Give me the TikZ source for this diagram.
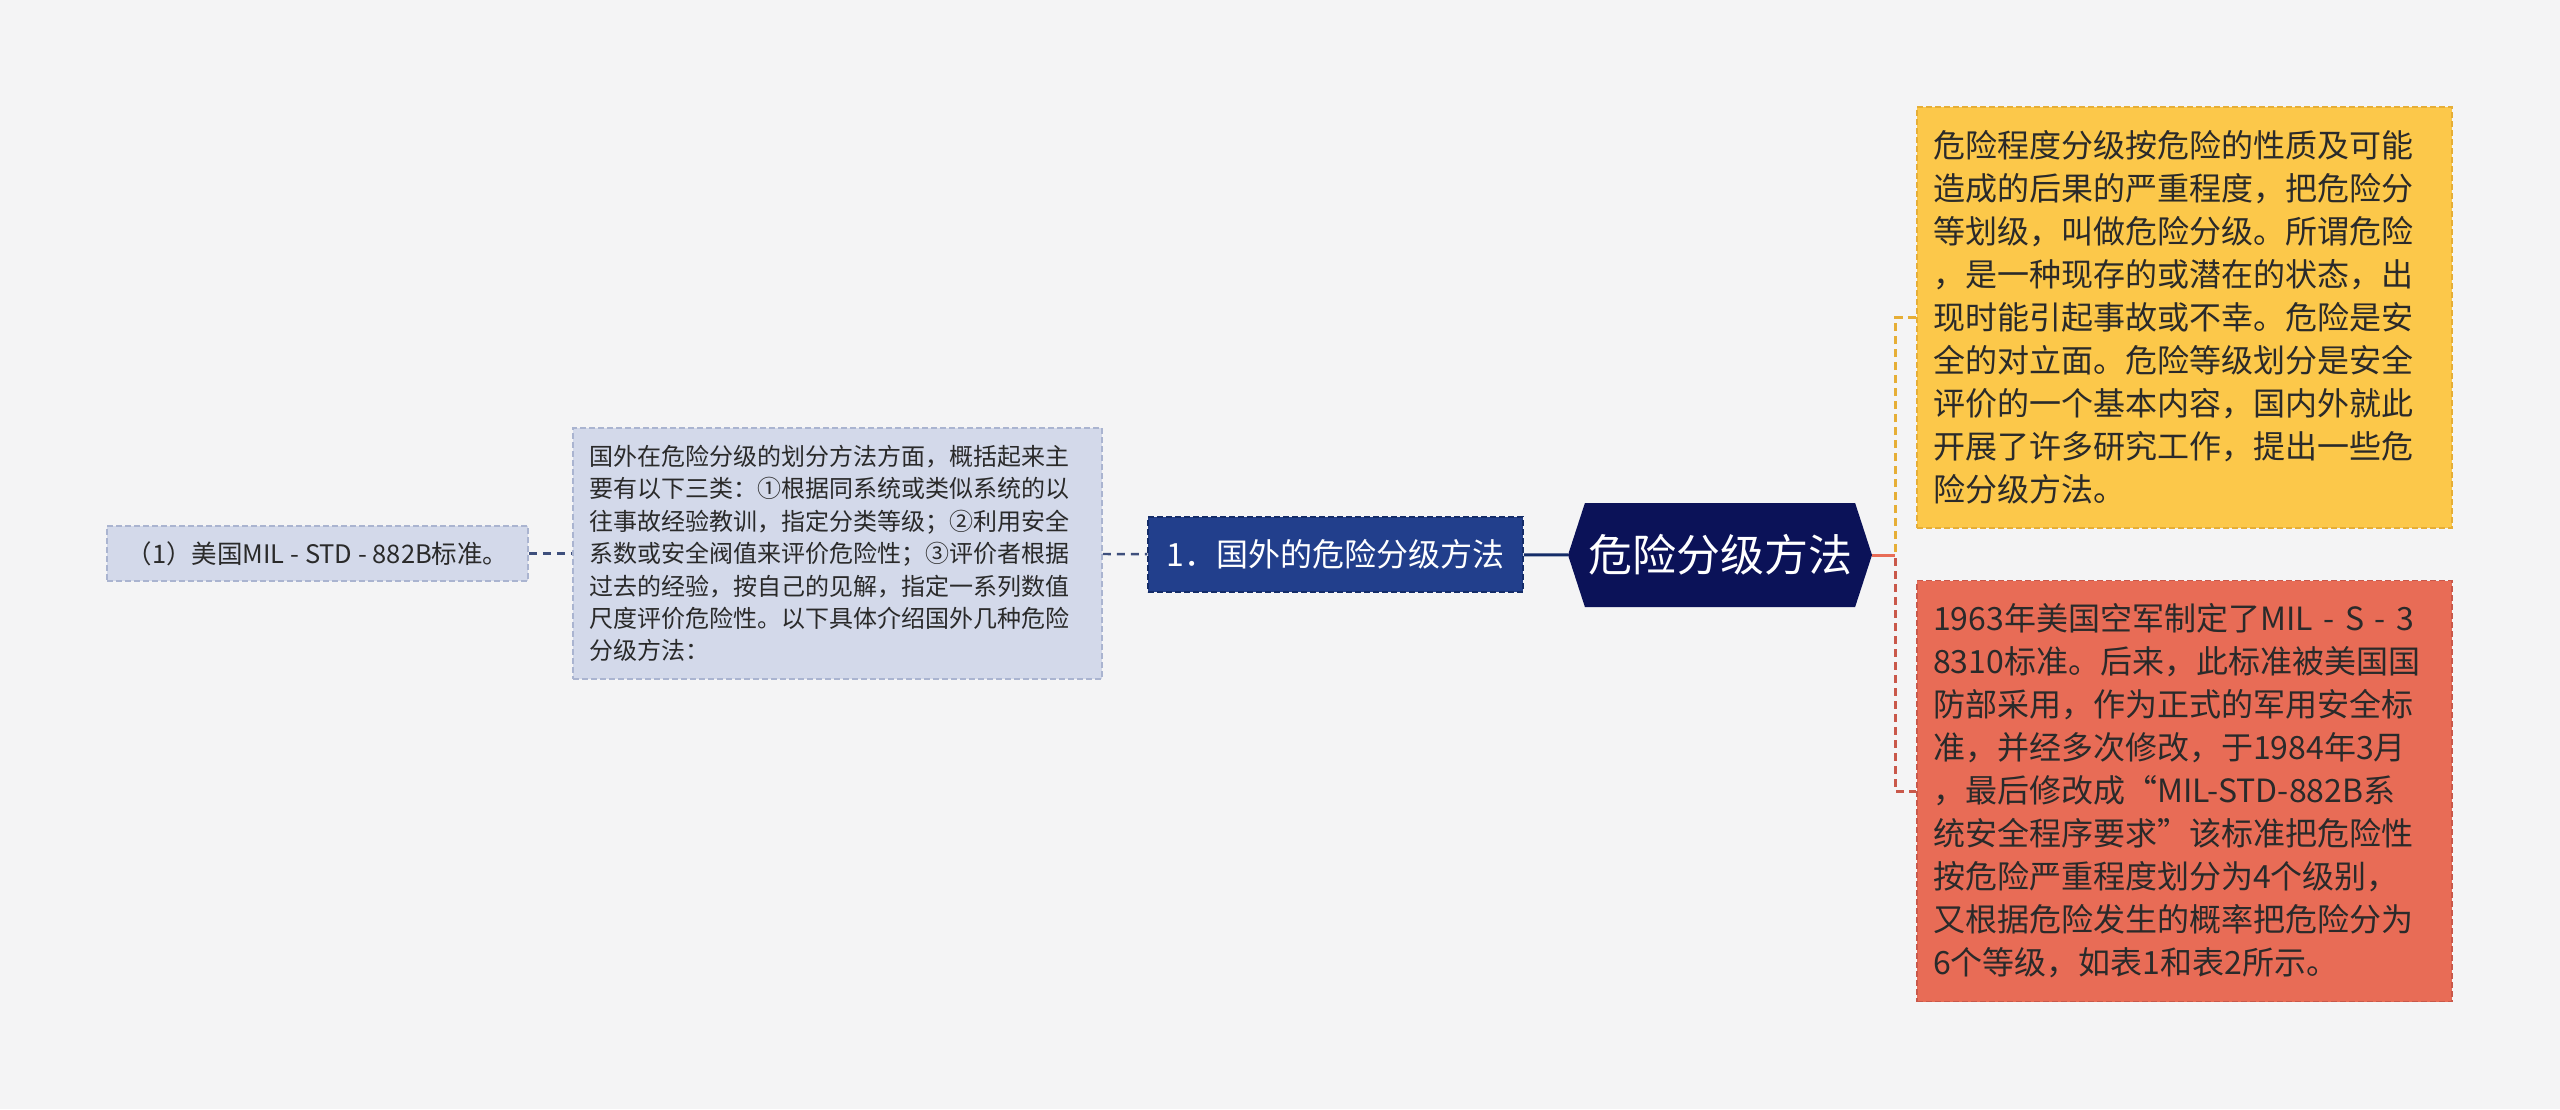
\documentclass[tikz,border=0pt]{standalone}
\usepackage{fontspec}
\setmainfont{Noto Sans CJK SC}
\usetikzlibrary{shapes.symbols}

\definecolor{pagebg}{HTML}{F4F4F5}
\definecolor{leaffill}{HTML}{D3D9EA}
\definecolor{leafline}{HTML}{AAB4D0}
\definecolor{leaflink}{HTML}{3E4F7C}
\definecolor{bluefill}{HTML}{223F8C}
\definecolor{blueline}{HTML}{142C68}
\definecolor{rootfill}{HTML}{0B1258}
\definecolor{yellowfill}{HTML}{FCC84A}
\definecolor{yellowline}{HTML}{E6AE36}
\definecolor{redfill}{HTML}{E86C56}
\definecolor{redline}{HTML}{C9584A}
\definecolor{darktext}{HTML}{2A2A2A}

\begin{document}
\begin{tikzpicture}[x=1pt,y=-1pt,
    leafbox/.style={fill=leaffill, draw=leafline, dash pattern=on 6pt off 3pt,
        line width=1.5pt, text=darktext, inner sep=0pt,
        font=\fontsize{24}{32.4}\selectfont},
    notebox/.style={dash pattern=on 6pt off 3pt, line width=1.5pt, text=darktext,
        inner xsep=16pt, inner ysep=0pt, text width=503pt, align=left,
        minimum height=421pt, font=\fontsize{32}{43}\selectfont},
    leaflink/.style={draw=leaflink, line width=2.4pt, dash pattern=on 8pt off 6pt}]

    % page
    \fill[pagebg] (0,0) rectangle (2560,1109);

    % left side
    \node[leafbox, minimum width=421, minimum height=55,
          font=\fontsize{25.5}{30}\selectfont] (mil) at (317.5,553.5)
        {（1）美国MIL - STD - 882B标准。};
    \node[leafbox, minimum width=529, minimum height=251, inner xsep=16pt,
          text width=497pt, align=left] (abroad) at (837.5,553.5)
        {国外在危险分级的划分方法方面，概括起来主\\
         要有以下三类：①根据同系统或类似系统的以\\
         往事故经验教训，指定分类等级；②利用安全\\
         系数或安全阀值来评价危险性；③评价者根据\\
         过去的经验，按自己的见解，指定一系列数值\\
         尺度评价危险性。以下具体介绍国外几种危险\\
         分级方法：};
    \node[fill=bluefill, draw=blueline, dash pattern=on 6pt off 3pt, line width=1.5pt,
          text=white, minimum width=375, minimum height=75, inner sep=0pt,
          font=\fontsize{32}{36}\selectfont] (method) at (1335.5,554.5)
        {1．国外的危险分级方法};

    % centre
    \node[signal, signal to=west and east, signal pointer angle=144, fill=rootfill,
          text=white, minimum width=304, minimum height=104, inner sep=0pt,
          font=\fontsize{44}{50}\selectfont] (root) at (1720,555) {危险分级方法};

    % right side
    \node[notebox, fill=yellowfill, draw=yellowline] (grade) at (2184.5,317.5)
        {危险程度分级按危险的性质及可能\\
         造成的后果的严重程度，把危险分\\
         等划级，叫做危险分级。所谓危险\\
         ，是一种现存的或潜在的状态，出\\
         现时能引起事故或不幸。危险是安\\
         全的对立面。危险等级划分是安全\\
         评价的一个基本内容，国内外就此\\
         开展了许多研究工作，提出一些危\\
         险分级方法。};
    \node[notebox, fill=redfill, draw=redline] (history) at (2184.5,791)
        {1963年美国空军制定了MIL - S - 3\\
         8310标准。后来，此标准被美国国\\
         防部采用，作为正式的军用安全标\\
         准，并经多次修改，于1984年3月\\
         ，最后修改成“MIL-STD-882B系\\
         统安全程序要求”该标准把危险性\\
         按危险严重程度划分为4个级别，\\
         又根据危险发生的概率把危险分为\\
         6个等级，如表1和表2所示。};

    % connectors
    \draw[leaflink] (mil) -- (abroad);
    \draw[leaflink] (abroad) -- (method);
    \draw[blueline, line width=3pt] (method) -- (root);
    \draw[yellowline, line width=3pt, dash pattern=on 8pt off 5pt]
        (root.east) -- ++(23,0) |- (grade.west);
    \draw[redline, line width=3pt, dash pattern=on 8pt off 5pt]
        (root.east) -- ++(23,0) |- (history.west);
    \draw[redfill, line width=3pt] (root.east) -- ++(23,0);
\end{tikzpicture}
\end{document}
